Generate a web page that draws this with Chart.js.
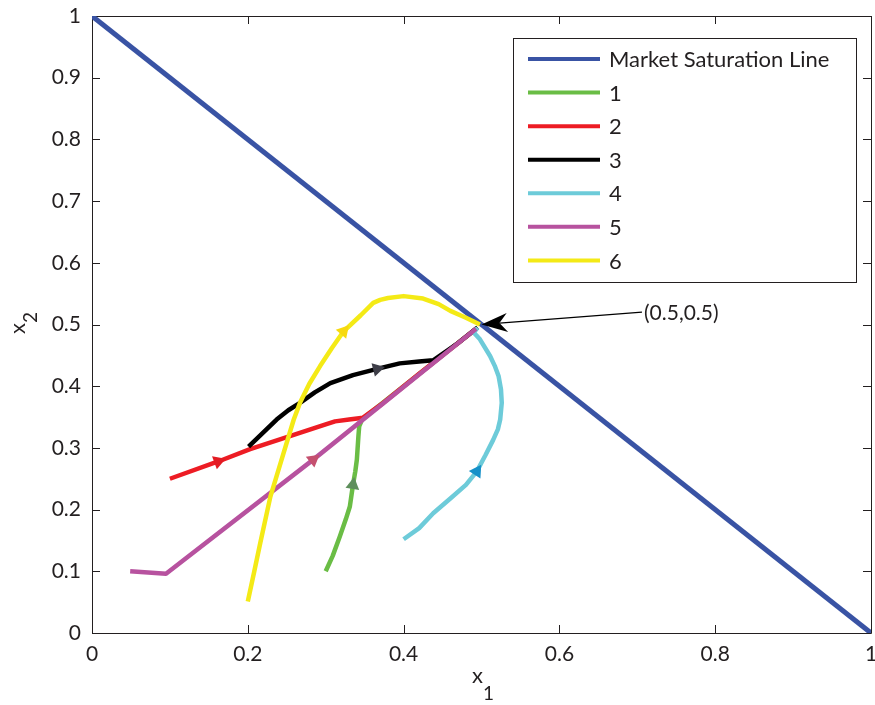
<!DOCTYPE html>
<html>
<head>
<meta charset="utf-8">
<script src="https://cdn.jsdelivr.net/npm/chart.js@4.4.1/dist/chart.umd.min.js"></script>
<style>
  html, body { margin: 0; padding: 0; background: #ffffff; }
  #c { display: block; }
</style>
</head>
<body>
<canvas id="c" width="875" height="705"></canvas>
<script>
// ---- data -------------------------------------------------------------
const seriesNames = ['Market Saturation Line', '1', '2', '3', '4', '5', '6'];

const xTicks = [0, 0.2, 0.4, 0.6, 0.8, 1];
const yTicks = [0, 0.1, 0.2, 0.3, 0.4, 0.5, 0.6, 0.7, 0.8, 0.9, 1];

const saturationX = [0, 1];
const saturationY = [1, 0];

const path1X = [0.300, 0.309, 0.318, 0.326, 0.331, 0.335, 0.338, 0.340, 0.342, 0.343, 0.347, 0.400, 0.450, 0.495];
const path1Y = [0.100, 0.125, 0.156, 0.185, 0.205, 0.240, 0.262, 0.281, 0.319, 0.335, 0.347, 0.400, 0.450, 0.495];

const path2X = [0.100, 0.162, 0.203, 0.254, 0.300, 0.312, 0.330, 0.348, 0.374, 0.420, 0.470, 0.495];
const path2Y = [0.250, 0.278, 0.298, 0.319, 0.338, 0.343, 0.346, 0.349, 0.373, 0.420, 0.470, 0.495];

const path3X = [0.201, 0.220, 0.237, 0.252, 0.267, 0.286, 0.306, 0.335, 0.366, 0.395, 0.420, 0.438, 0.470, 0.495];
const path3Y = [0.302, 0.325, 0.346, 0.361, 0.373, 0.390, 0.405, 0.418, 0.428, 0.437, 0.440, 0.442, 0.470, 0.495];

const path4X = [0.400, 0.420, 0.438, 0.460, 0.480, 0.494, 0.505, 0.515, 0.521, 0.524, 0.526, 0.525, 0.522, 0.517, 0.511, 0.498, 0.490, 0.495];
const path4Y = [0.152, 0.170, 0.194, 0.218, 0.240, 0.262, 0.288, 0.313, 0.330, 0.346, 0.373, 0.395, 0.416, 0.433, 0.449, 0.476, 0.487, 0.495];

const path5X = [0.049, 0.095, 0.284, 0.493];
const path5Y = [0.100, 0.096, 0.281, 0.493];

const path6X = [0.200, 0.208, 0.216, 0.229, 0.246, 0.259, 0.267, 0.279, 0.293, 0.308, 0.323, 0.345, 0.361, 0.370, 0.380, 0.400, 0.425, 0.445, 0.460, 0.480, 0.498];
const path6Y = [0.051, 0.098, 0.146, 0.221, 0.292, 0.346, 0.373, 0.404, 0.433, 0.462, 0.489, 0.515, 0.535, 0.540, 0.543, 0.546, 0.542, 0.533, 0.522, 0.511, 0.500];

// index of the point carrying the direction arrow (-1 = none)
const arrowAt = [-1, 5, 1, 8, 5, 2, 10];

// equilibrium callout
const calloutPoint = [0.5, 0.5];
const calloutAnchor = [0.706, 0.520];
const calloutText = '(0.5,0.5)';

// ---- styling ----------------------------------------------------------
const FONT = 'Lato, "Open Sans", sans-serif';
const INK = '#231f20';
const lineColors  = ['#3953a4', '#6abd45', '#ed1c24', '#000000', '#6dcbd9', '#b7529f', '#f4ea16'];
const arrowColors = ['#3953a4', '#5e8f5c', '#e31b23', '#3d3d47', '#1591c9', '#c5506f', '#f7d90e'];
const lineWidths  = [5, 4.5, 4.5, 4.5, 4.5, 4.5, 4.5];

const xs = [saturationX, path1X, path2X, path3X, path4X, path5X, path6X];
const ys = [saturationY, path1Y, path2Y, path3Y, path4Y, path5Y, path6Y];

const datasets = seriesNames.map((name, k) => ({
  label: name,
  data: xs[k].map((x, i) => ({ x: x, y: ys[k][i] })),
  borderColor: lineColors[k],
  backgroundColor: lineColors[k],
  borderWidth: lineWidths[k],
  borderCapStyle: 'butt',
  borderJoinStyle: 'round',
  tension: 0,
  showLine: true,
  fill: false,
  // later series sit on top of earlier ones
  order: seriesNames.length - 1 - k,
  pointStyle: 'triangle',
  pointBorderWidth: 0,
  pointBackgroundColor: arrowColors[k],
  pointBorderColor: arrowColors[k],
  pointRadius: ctx => (ctx.dataIndex === arrowAt[ctx.datasetIndex] ? 8 : 0),
  pointHoverRadius: ctx => (ctx.dataIndex === arrowAt[ctx.datasetIndex] ? 8 : 0),
  pointRotation: ctx => {
    const d = ctx.dataset.data, i = ctx.dataIndex, ch = ctx.chart;
    const a = d[Math.max(0, i - 1)], b = d[Math.min(d.length - 1, i + 1)];
    const sx = ch.scales.x, sy = ch.scales.y;
    const dx = sx.getPixelForValue(b.x) - sx.getPixelForValue(a.x);
    const dy = sy.getPixelForValue(b.y) - sy.getPixelForValue(a.y);
    return Math.atan2(dx, -dy) * 180 / Math.PI;
  }
}));

// ---- plugins ----------------------------------------------------------
// plot frame with inward ticks on all four sides
const framePlugin = {
  id: 'frame',
  beforeDatasetsDraw(chart) {
    const { ctx, chartArea: a, scales } = chart;
    const L = 8;
    ctx.save();
    ctx.strokeStyle = INK;
    ctx.lineWidth = 1;
    ctx.beginPath();
    ctx.rect(Math.round(a.left) + 0.5, Math.round(a.top) + 0.5,
             Math.round(a.right - a.left), Math.round(a.bottom - a.top));
    xTicks.forEach(v => {
      const p = Math.round(scales.x.getPixelForValue(v)) + 0.5;
      ctx.moveTo(p, a.bottom); ctx.lineTo(p, a.bottom - L);
      ctx.moveTo(p, a.top); ctx.lineTo(p, a.top + L);
    });
    yTicks.forEach(v => {
      const p = Math.round(scales.y.getPixelForValue(v)) + 0.5;
      ctx.moveTo(a.left, p); ctx.lineTo(a.left + L, p);
      ctx.moveTo(a.right, p); ctx.lineTo(a.right - L, p);
    });
    ctx.stroke();
    ctx.restore();
  }
};

// axis titles with subscripts
const axisTitlePlugin = {
  id: 'axisTitles',
  afterDraw(chart) {
    const { ctx, chartArea: a } = chart;
    ctx.save();
    ctx.fillStyle = INK;
    ctx.textBaseline = 'alphabetic';
    ctx.textAlign = 'left';
    // x1 below the x axis
    const cx = (a.left + a.right) / 2;
    ctx.font = '22px ' + FONT;
    const wx = ctx.measureText('x').width;
    ctx.fillText('x', cx - wx / 2 - 4, 683);
    ctx.font = '19px ' + FONT;
    ctx.fillText('1', cx - 4 + wx / 2, 700);
    // x2 beside the y axis, rotated
    const cy = (a.top + a.bottom) / 2;
    ctx.translate(25, cy);
    ctx.rotate(-Math.PI / 2);
    ctx.font = '22px ' + FONT;
    ctx.fillText('x', -wx / 2 - 4, 0);
    ctx.font = '19px ' + FONT;
    ctx.fillText('2', -4 + wx / 2, 12);
    ctx.restore();
  }
};

// legend box inside the plot, upper right
const legendPlugin = {
  id: 'boxLegend',
  afterDraw(chart) {
    const { ctx, chartArea: a } = chart;
    const boxR = a.right - 15, boxT = a.top + 22;
    const boxW = 343, boxH = 244;
    const boxL = boxR - boxW;
    const rowH = 33.57, firstRow = boxT + 21;
    ctx.save();
    ctx.fillStyle = '#ffffff';
    ctx.fillRect(boxL, boxT, boxW, boxH);
    ctx.strokeStyle = INK;
    ctx.lineWidth = 1;
    ctx.strokeRect(Math.round(boxL) + 0.5, Math.round(boxT) + 0.5, boxW, boxH);
    ctx.font = '22px ' + FONT;
    ctx.textBaseline = 'middle';
    ctx.textAlign = 'left';
    chart.data.datasets.forEach((ds, i) => {
      const y = firstRow + i * rowH;
      ctx.strokeStyle = ds.borderColor;
      ctx.lineWidth = 4;
      ctx.beginPath();
      ctx.moveTo(boxL + 15, y);
      ctx.lineTo(boxL + 87, y);
      ctx.stroke();
      ctx.fillStyle = INK;
      ctx.fillText(ds.label, boxL + 96, y + 1);
    });
    ctx.restore();
  }
};

// arrow pointing at the equilibrium with its label
const calloutPlugin = {
  id: 'callout',
  afterDatasetsDraw(chart) {
    const { ctx, scales } = chart;
    const tx = scales.x.getPixelForValue(calloutPoint[0]);
    const ty = scales.y.getPixelForValue(calloutPoint[1]);
    const sx = scales.x.getPixelForValue(calloutAnchor[0]);
    const sy = scales.y.getPixelForValue(calloutAnchor[1]);
    const len = Math.hypot(tx - sx, ty - sy);
    const ux = (tx - sx) / len, uy = (ty - sy) / len;
    const nx = -uy, ny = ux;
    ctx.save();
    ctx.strokeStyle = '#000';
    ctx.lineWidth = 1.1;
    ctx.beginPath();
    ctx.moveTo(sx, sy);
    ctx.lineTo(tx - 18 * ux, ty - 18 * uy);
    ctx.stroke();
    ctx.fillStyle = '#000';
    ctx.beginPath();
    ctx.moveTo(tx, ty);
    ctx.lineTo(tx - 26 * ux + 9.5 * nx, ty - 26 * uy + 9.5 * ny);
    ctx.lineTo(tx - 18 * ux, ty - 18 * uy);
    ctx.lineTo(tx - 26 * ux - 9.5 * nx, ty - 26 * uy - 9.5 * ny);
    ctx.closePath();
    ctx.fill();
    ctx.fillStyle = INK;
    ctx.font = '21px ' + FONT;
    ctx.textAlign = 'left';
    ctx.textBaseline = 'middle';
    ctx.fillText(calloutText, sx + 2, sy + 1);
    ctx.restore();
  }
};

// ---- chart ------------------------------------------------------------
const tickFont = { family: FONT, size: 21 };

new Chart(document.getElementById('c'), {
  type: 'scatter',
  data: { datasets: datasets },
  options: {
    responsive: false,
    animation: false,
    events: [],
    devicePixelRatio: 1,
    layout: { padding: { top: 16, right: 4, left: 0, bottom: 0 } },
    plugins: { legend: { display: false }, tooltip: { enabled: false } },
    scales: {
      x: {
        type: 'linear', min: 0, max: 1,
        afterBuildTicks: s => { s.ticks = xTicks.map(v => ({ value: v })); },
        afterFit: s => { s.height = 72; s.paddingLeft = 0; s.paddingRight = 0; },
        grid: { display: false, drawTicks: false },
        border: { display: false },
        ticks: { color: INK, font: tickFont, padding: 9, maxRotation: 0,
                 callback: v => String(v) }
      },
      y: {
        type: 'linear', min: 0, max: 1,
        afterBuildTicks: s => { s.ticks = yTicks.map(v => ({ value: v })); },
        afterFit: s => { s.width = 92; s.paddingTop = 0; s.paddingBottom = 0; },
        grid: { display: false, drawTicks: false },
        border: { display: false },
        ticks: { color: INK, font: tickFont, padding: 11,
                 callback: v => String(v) }
      }
    }
  },
  plugins: [framePlugin, calloutPlugin, legendPlugin, axisTitlePlugin]
});
</script>
</body>
</html>
